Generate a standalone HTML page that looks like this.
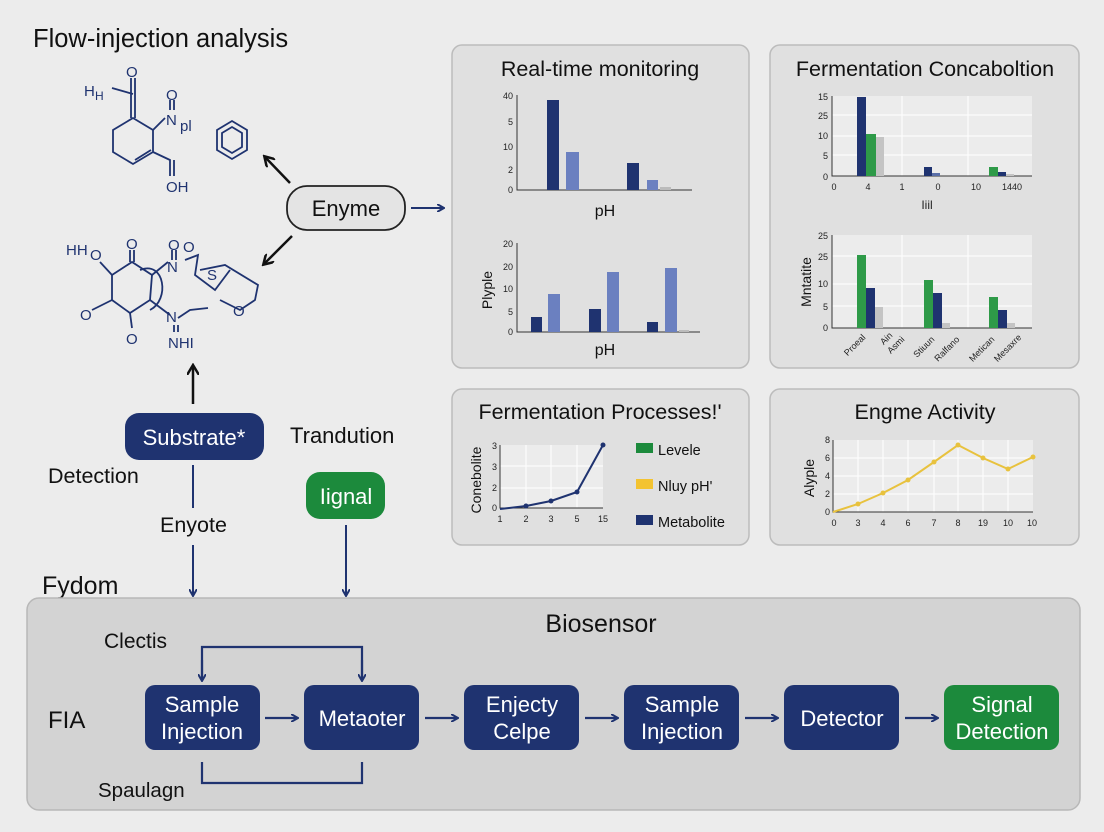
<!DOCTYPE html>
<html><head><meta charset="utf-8"><style>
html,body{margin:0;padding:0;background:#ececec}
svg{display:block}
text{font-family:"Liberation Sans",sans-serif}
</style></head><body>
<svg width="1104" height="832" viewBox="0 0 1104 832" xmlns="http://www.w3.org/2000/svg">
<defs>
<marker id="ab" markerWidth="8" markerHeight="8" refX="6" refY="4" orient="auto" markerUnits="userSpaceOnUse"><path d="M0,0 L7,4 L0,8" fill="none" stroke="#1f3370" stroke-width="2"/></marker>
<marker id="ak" markerWidth="12" markerHeight="12" refX="9" refY="6" orient="auto" markerUnits="userSpaceOnUse"><path d="M0,0 L10,6 L0,12" fill="none" stroke="#111" stroke-width="2.5"/></marker>
</defs>
<rect width="1104" height="832" fill="#ececec"/>
<text x="33" y="47" font-size="25.5" fill="#111">Flow-injection analysis</text>

<!-- molecule 1 -->
<g stroke="#1f3370" stroke-width="1.8" fill="none">
<path d="M133,118 L113,130 L113,152 L133,164 L153,152 L153,130 Z"/>
<path d="M135,160 L151,150"/>
<path d="M131,118 L131,78 M135,118 L135,78"/>
<path d="M133,94 L112,88"/>
<path d="M153,130 L165,118"/>
<path d="M170,100 L170,110 M174,100 L174,110"/>
<path d="M153,152 L170,160 L170,176 M174,160 L174,176"/>
<path d="M217,130 L232,121 L247,130 L247,150 L232,159 L217,150 Z"/>
<path d="M222,133 L232,127 L242,133 L242,147 L232,153 L222,147 Z"/>
</g>
<g fill="#1f3370" font-size="15">
<text x="126" y="77">O</text><text x="84" y="96">H</text><text x="95" y="100" font-size="12">H</text>
<text x="166" y="100">O</text><text x="166" y="125">N</text><text x="180" y="131">pl</text>
<text x="166" y="192">OH</text>
</g>

<!-- molecule 2 -->
<g stroke="#1f3370" stroke-width="1.8" fill="none">
<path d="M132,262 L112,275 L112,300 L130,313 L150,300 L152,275 Z"/>
<path d="M130,262 L130,250 M134,262 L134,250"/>
<path d="M112,275 L100,262"/>
<path d="M112,300 L92,310"/>
<path d="M130,313 L132,328"/>
<path d="M140,270 C165,260 170,300 150,310"/>
<path d="M152,275 L168,262"/>
<path d="M150,300 L170,315"/>
<path d="M172,250 L172,260 M176,250 L176,260"/>
<path d="M185,260 L198,255 L195,275 L215,290 L230,270"/>
<path d="M200,270 L225,265 L258,285 L255,300 L240,310 L220,300"/>
<path d="M178,318 L190,310 L208,308"/>
<path d="M174,325 L174,332 M178,325 L178,332"/>
</g>
<g fill="#1f3370" font-size="15">
<text x="66" y="255">HH</text><text x="90" y="260">O</text>
<text x="126" y="249">O</text><text x="168" y="250">O</text><text x="183" y="252">O</text>
<text x="167" y="272">N</text><text x="207" y="280">S</text>
<text x="80" y="320">O</text><text x="126" y="344">O</text>
<text x="166" y="322">N</text><text x="233" y="316">O</text>
<text x="168" y="348">NHI</text>
</g>

<!-- Enyme -->
<rect x="287" y="186" width="118" height="44" rx="20" fill="#e4e4e4" stroke="#222" stroke-width="1.8"/>
<text x="346" y="216" font-size="22" text-anchor="middle" fill="#111">Enyme</text>
<line x1="290" y1="183" x2="265" y2="157" stroke="#111" stroke-width="2.5" marker-end="url(#ak)"/>
<line x1="292" y1="236" x2="264" y2="264" stroke="#111" stroke-width="2.5" marker-end="url(#ak)"/>
<line x1="411" y1="208" x2="443" y2="208" stroke="#1f3370" stroke-width="2" marker-end="url(#ab)"/>
<line x1="193" y1="404" x2="193" y2="366" stroke="#111" stroke-width="2.5" marker-end="url(#ak)"/>

<rect x="125" y="413" width="139" height="47" rx="14" fill="#1f3370"/>
<text x="194" y="445" font-size="22" text-anchor="middle" fill="#fff">Substrate*</text>
<text x="290" y="443" font-size="22" fill="#111">Trandution</text>
<text x="48" y="483" font-size="21.5" fill="#111">Detection</text>
<text x="160" y="532" font-size="21.5" fill="#111">Enyote</text>
<rect x="306" y="472" width="79" height="47" rx="14" fill="#1c8a3c"/>
<text x="346" y="504" font-size="22" text-anchor="middle" fill="#fff">Iignal</text>
<text x="42" y="594" font-size="25" fill="#111">Fydom</text>
<line x1="193" y1="465" x2="193" y2="508" stroke="#1f3370" stroke-width="2"/>
<line x1="193" y1="545" x2="193" y2="595" stroke="#1f3370" stroke-width="2" marker-end="url(#ab)"/>
<line x1="346" y1="525" x2="346" y2="595" stroke="#1f3370" stroke-width="2" marker-end="url(#ab)"/>

<!-- Panels -->
<g fill="#e0e0e0" stroke="#bcbcbc" stroke-width="1.5">
<rect x="452" y="45" width="297" height="323" rx="10"/>
<rect x="770" y="45" width="309" height="323" rx="10"/>
<rect x="452" y="389" width="297" height="156" rx="10"/>
<rect x="770" y="389" width="309" height="156" rx="10"/>
</g>
<g font-size="21.5" fill="#111" text-anchor="middle">
<text x="600" y="76">Real-time monitoring</text>
<text x="925" y="76">Fermentation Concaboltion</text>
<text x="600" y="419">Fermentation Processes!ʹ</text>
<text x="925" y="419">Engme Activity</text>
</g>

<!-- chart 1 -->
<g font-size="9" fill="#222" text-anchor="end">
<text x="513" y="99">40</text><text x="513" y="125">5</text><text x="513" y="150">10</text><text x="513" y="173">2</text><text x="513" y="193">0</text>
</g>
<path d="M517,95 L517,190 L692,190" stroke="#333" stroke-width="1" fill="none"/>
<rect x="547" y="100" width="12" height="90" fill="#1f3370"/>
<rect x="566" y="152" width="13" height="38" fill="#6b80c0"/>
<rect x="627" y="163" width="12" height="27" fill="#1f3370"/>
<rect x="647" y="180" width="11" height="10" fill="#6b80c0"/>
<rect x="660" y="187" width="11" height="3" fill="#bbb"/>
<text x="605" y="216" font-size="16" text-anchor="middle" fill="#111">pH</text>

<g font-size="9" fill="#222" text-anchor="end">
<text x="513" y="247">20</text><text x="513" y="270">20</text><text x="513" y="292">10</text><text x="513" y="315">5</text><text x="513" y="335">0</text>
</g>
<path d="M517,243 L517,332 L700,332" stroke="#333" stroke-width="1" fill="none"/>
<text x="492" y="290" font-size="14" fill="#111" transform="rotate(-90 492 290)" text-anchor="middle">Plyple</text>
<rect x="531" y="317" width="11" height="15" fill="#1f3370"/>
<rect x="548" y="294" width="12" height="38" fill="#6b80c0"/>
<rect x="589" y="309" width="12" height="23" fill="#1f3370"/>
<rect x="607" y="272" width="12" height="60" fill="#6b80c0"/>
<rect x="647" y="322" width="11" height="10" fill="#1f3370"/>
<rect x="665" y="268" width="12" height="64" fill="#6b80c0"/>
<rect x="679" y="330" width="10" height="2" fill="#bbb"/>
<text x="605" y="355" font-size="16" text-anchor="middle" fill="#111">pH</text>

<!-- chart 2 -->
<rect x="832" y="96" width="200" height="80" fill="#ececec"/>
<g stroke="#fff" stroke-width="1"><line x1="832" y1="115" x2="1032" y2="115"/><line x1="832" y1="136" x2="1032" y2="136"/><line x1="832" y1="155" x2="1032" y2="155"/><line x1="902" y1="96" x2="902" y2="176"/><line x1="968" y1="96" x2="968" y2="176"/></g>
<path d="M832,96 L832,176 L1032,176" stroke="#333" stroke-width="1" fill="none"/>
<g font-size="9" fill="#222" text-anchor="end">
<text x="828" y="100">15</text><text x="828" y="119">25</text><text x="828" y="139">10</text><text x="828" y="159">5</text><text x="828" y="180">0</text>
</g>
<g font-size="9" fill="#222" text-anchor="middle">
<text x="834" y="190">0</text><text x="868" y="190">4</text><text x="902" y="190">1</text><text x="938" y="190">0</text><text x="976" y="190">10</text><text x="1012" y="190">1440</text>
</g>
<text x="927" y="209" font-size="12" text-anchor="middle" fill="#222">Iiil</text>
<rect x="857" y="97" width="9" height="79" fill="#1f3370"/>
<rect x="866" y="134" width="10" height="42" fill="#2e9a48"/>
<rect x="876" y="137" width="8" height="39" fill="#c4c4c4"/>
<rect x="924" y="167" width="8" height="9" fill="#1f3370"/>
<rect x="932" y="173" width="8" height="3" fill="#5a6fa8"/>
<rect x="989" y="167" width="9" height="9" fill="#2e9a48"/>
<rect x="998" y="172" width="8" height="4" fill="#1f3370"/>
<rect x="1006" y="174" width="8" height="2" fill="#c4c4c4"/>

<rect x="832" y="235" width="200" height="93" fill="#ececec"/>
<g stroke="#fff" stroke-width="1"><line x1="832" y1="256" x2="1032" y2="256"/><line x1="832" y1="284" x2="1032" y2="284"/><line x1="832" y1="306" x2="1032" y2="306"/><line x1="902" y1="235" x2="902" y2="328"/><line x1="968" y1="235" x2="968" y2="328"/></g>
<path d="M832,235 L832,328 L1032,328" stroke="#333" stroke-width="1" fill="none"/>
<g font-size="9" fill="#222" text-anchor="end">
<text x="828" y="239">25</text><text x="828" y="260">25</text><text x="828" y="287">10</text><text x="828" y="310">5</text><text x="828" y="331">0</text>
</g>
<text x="811" y="282" font-size="14" fill="#111" transform="rotate(-90 811 282)" text-anchor="middle">Mntatite</text>
<rect x="857" y="255" width="9" height="73" fill="#2e9a48"/>
<rect x="866" y="288" width="9" height="40" fill="#1f3370"/>
<rect x="875" y="307" width="8" height="21" fill="#c4c4c4"/>
<rect x="924" y="280" width="9" height="48" fill="#2e9a48"/>
<rect x="933" y="293" width="9" height="35" fill="#1f3370"/>
<rect x="942" y="323" width="8" height="5" fill="#c4c4c4"/>
<rect x="989" y="297" width="9" height="31" fill="#2e9a48"/>
<rect x="998" y="310" width="9" height="18" fill="#1f3370"/>
<rect x="1007" y="323" width="8" height="5" fill="#c4c4c4"/>
<g font-size="9" fill="#222" text-anchor="end">
<text transform="translate(866,338) rotate(-45)">Proeal</text>
<text transform="translate(893,336) rotate(-45)">Ain</text>
<text transform="translate(905,340) rotate(-45)">Asmi</text>
<text transform="translate(935,340) rotate(-45)">Stiuun</text>
<text transform="translate(960,340) rotate(-45)">Ralfano</text>
<text transform="translate(995,340) rotate(-45)">Metican</text>
<text transform="translate(1022,338) rotate(-45)">Mesaxre</text>
</g>

<!-- chart 3 -->
<rect x="500" y="445" width="103" height="63" fill="#ececec"/>
<g stroke="#fff"><line x1="500" y1="466" x2="603" y2="466"/><line x1="500" y1="488" x2="603" y2="488"/><line x1="526" y1="445" x2="526" y2="508"/><line x1="551" y1="445" x2="551" y2="508"/><line x1="577" y1="445" x2="577" y2="508"/></g>
<path d="M500,445 L500,508 L603,508" stroke="#333" fill="none"/>
<g font-size="9" fill="#222" text-anchor="end"><text x="497" y="449">3</text><text x="497" y="470">3</text><text x="497" y="491">2</text><text x="497" y="511">0</text></g>
<g font-size="9" fill="#222" text-anchor="middle"><text x="500" y="522">1</text><text x="526" y="522">2</text><text x="551" y="522">3</text><text x="577" y="522">5</text><text x="603" y="522">15</text></g>
<text x="481" y="480" font-size="14" fill="#111" transform="rotate(-90 481 480)" text-anchor="middle">Conebolite</text>
<polyline points="500,509 526,506 551,501 577,492 603,445" fill="none" stroke="#1f3370" stroke-width="2"/>
<g fill="#1f3370"><circle cx="526" cy="506" r="2.5"/><circle cx="551" cy="501" r="2.5"/><circle cx="577" cy="492" r="2.5"/><circle cx="603" cy="445" r="2.5"/></g>
<rect x="636" y="443" width="17" height="10" fill="#1c8a3c"/><text x="658" y="455" font-size="14.5" fill="#111">Levele</text>
<rect x="636" y="479" width="17" height="10" fill="#f3c331"/><text x="658" y="491" font-size="14.5" fill="#111">Nluy pH'</text>
<rect x="636" y="515" width="17" height="10" fill="#1f3370"/><text x="658" y="527" font-size="14.5" fill="#111">Metabolite</text>

<!-- chart 4 -->
<rect x="833" y="440" width="200" height="72" fill="#ececec"/>
<g stroke="#fff"><line x1="833" y1="458" x2="1033" y2="458"/><line x1="833" y1="476" x2="1033" y2="476"/><line x1="833" y1="494" x2="1033" y2="494"/><line x1="858" y1="440" x2="858" y2="512"/><line x1="883" y1="440" x2="883" y2="512"/><line x1="908" y1="440" x2="908" y2="512"/><line x1="934" y1="440" x2="934" y2="512"/><line x1="958" y1="440" x2="958" y2="512"/><line x1="983" y1="440" x2="983" y2="512"/><line x1="1008" y1="440" x2="1008" y2="512"/></g>
<path d="M833,440 L833,512 L1033,512" stroke="#333" fill="none"/>
<g font-size="9" fill="#222" text-anchor="end"><text x="830" y="443">8</text><text x="830" y="461">6</text><text x="830" y="479">4</text><text x="830" y="497">2</text><text x="830" y="515">0</text></g>
<g font-size="9" fill="#222" text-anchor="middle"><text x="834" y="526">0</text><text x="858" y="526">3</text><text x="883" y="526">4</text><text x="908" y="526">6</text><text x="934" y="526">7</text><text x="958" y="526">8</text><text x="983" y="526">19</text><text x="1008" y="526">10</text><text x="1032" y="526">10</text></g>
<text x="814" y="478" font-size="14" fill="#111" transform="rotate(-90 814 478)" text-anchor="middle">Alyple</text>
<polyline points="833,512 858,504 883,493 908,480 934,462 958,445 983,458 1008,469 1033,457" fill="none" stroke="#e8c23e" stroke-width="2"/>
<g fill="#e8c23e"><circle cx="858" cy="504" r="2.5"/><circle cx="883" cy="493" r="2.5"/><circle cx="908" cy="480" r="2.5"/><circle cx="934" cy="462" r="2.5"/><circle cx="958" cy="445" r="2.5"/><circle cx="983" cy="458" r="2.5"/><circle cx="1008" cy="469" r="2.5"/><circle cx="1033" cy="457" r="2.5"/></g>

<!-- bottom -->
<rect x="27" y="598" width="1053" height="212" rx="12" fill="#d3d3d3" stroke="#b8b8b8" stroke-width="1.5"/>
<text x="601" y="632" font-size="25" text-anchor="middle" fill="#111">Biosensor</text>
<text x="104" y="648" font-size="21" fill="#111">Clectis</text>
<text x="98" y="797" font-size="20.5" fill="#111">Spaulagn</text>
<text x="48" y="728" font-size="24" fill="#111">FIA</text>
<g stroke="#1f3370" stroke-width="2.2" fill="none">
<path d="M202,678 L202,647 L362,647 L362,678" />
<path d="M202,762 L202,783 L362,783 L362,762"/>
</g>
<line x1="202" y1="660" x2="202" y2="680" stroke="#1f3370" stroke-width="2.2" marker-end="url(#ab)"/>
<line x1="362" y1="660" x2="362" y2="680" stroke="#1f3370" stroke-width="2.2" marker-end="url(#ab)"/>
<g fill="#1f3370">
<rect x="145" y="685" width="115" height="65" rx="10"/>
<rect x="304" y="685" width="115" height="65" rx="10"/>
<rect x="464" y="685" width="115" height="65" rx="10"/>
<rect x="624" y="685" width="115" height="65" rx="10"/>
<rect x="784" y="685" width="115" height="65" rx="10"/>
</g>
<rect x="944" y="685" width="115" height="65" rx="10" fill="#1c8a3c"/>
<g font-size="22" fill="#fff" text-anchor="middle">
<text x="202" y="712">Sample</text><text x="202" y="739">Injection</text>
<text x="362" y="726">Metaoter</text>
<text x="522" y="712">Enjecty</text><text x="522" y="739">Celpe</text>
<text x="682" y="712">Sample</text><text x="682" y="739">Injection</text>
<text x="842" y="726">Detector</text>
<text x="1002" y="712">Signal</text><text x="1002" y="739">Detection</text>
</g>
<g stroke="#1f3370" stroke-width="2.2">
<line x1="265" y1="718" x2="297" y2="718" marker-end="url(#ab)"/>
<line x1="425" y1="718" x2="457" y2="718" marker-end="url(#ab)"/>
<line x1="585" y1="718" x2="617" y2="718" marker-end="url(#ab)"/>
<line x1="745" y1="718" x2="777" y2="718" marker-end="url(#ab)"/>
<line x1="905" y1="718" x2="937" y2="718" marker-end="url(#ab)"/>
</g>
</svg>
</body></html>
